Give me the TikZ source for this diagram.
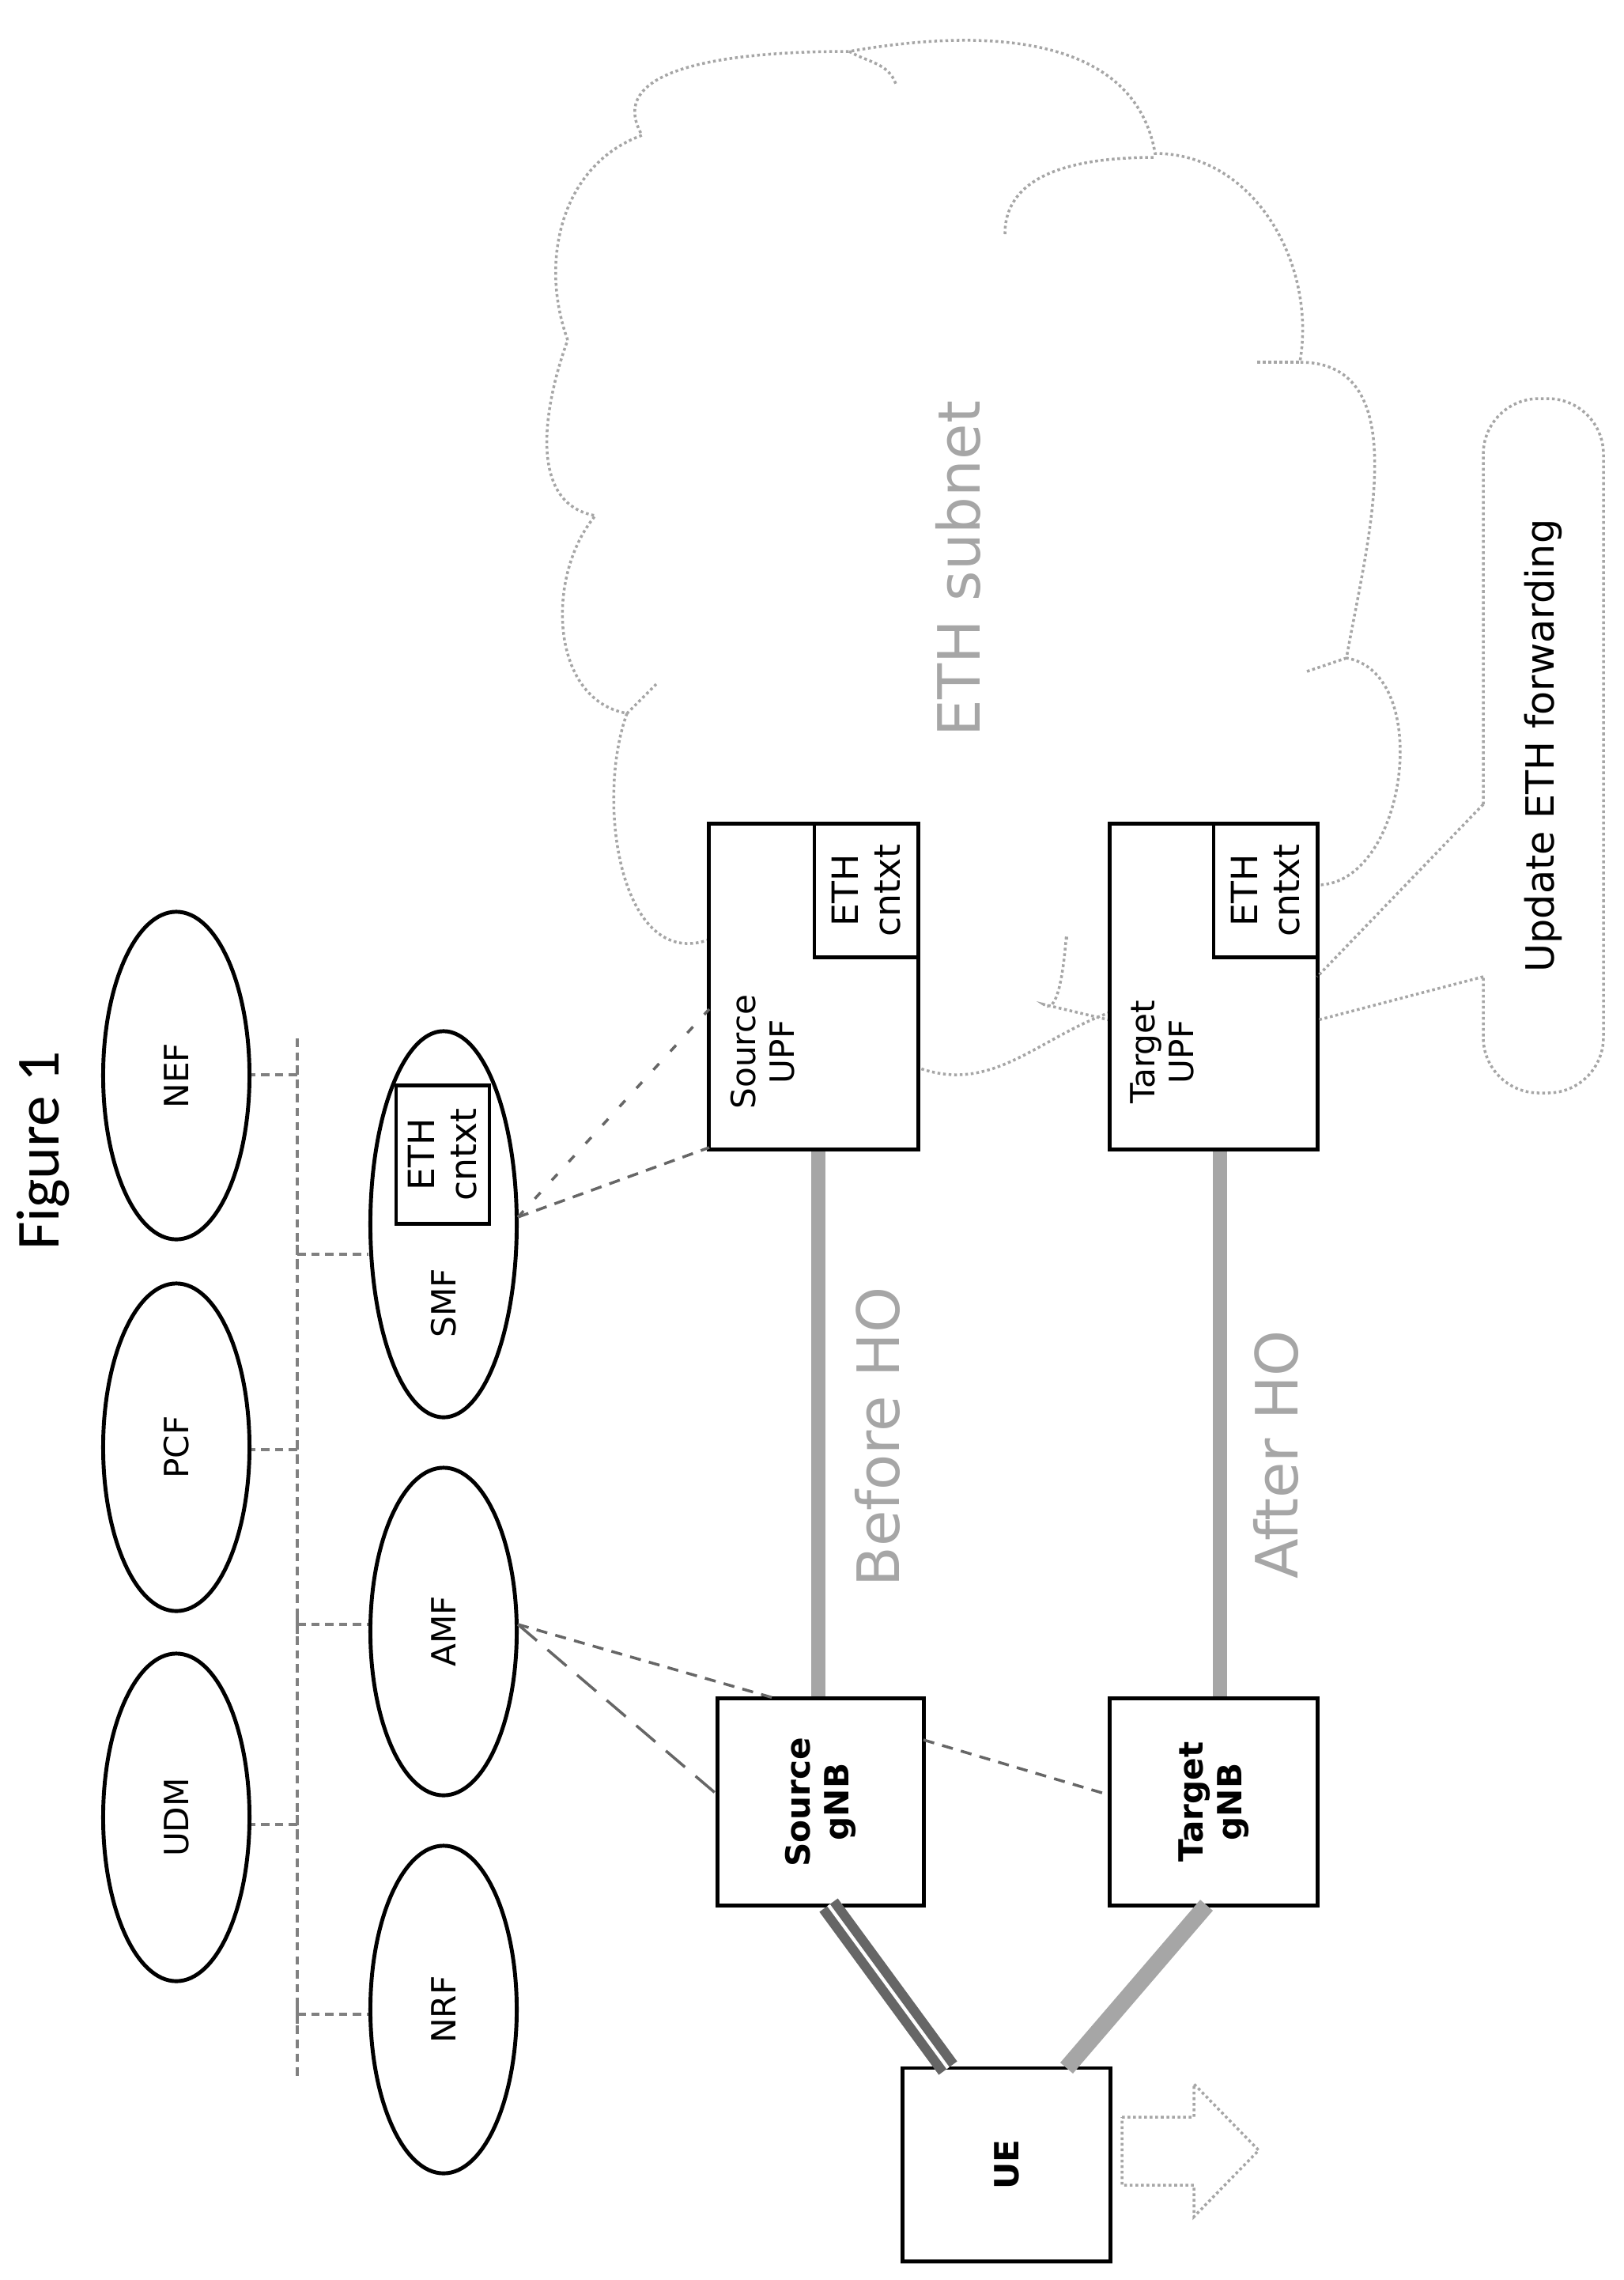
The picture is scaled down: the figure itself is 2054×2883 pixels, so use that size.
\documentclass[tikz,border=0pt]{standalone}
\usepackage{fontspec}
\setmainfont{DejaVu Sans}
\newfontfamily\titlefont{Carlito}
\usetikzlibrary{shapes.geometric}
\begin{document}
\begin{tikzpicture}[x=0.01cm,y=-0.01cm,
  nf/.style={ellipse,draw,line width=1.4pt,minimum width=1.85cm,minimum height=4.14cm,inner sep=0pt},
  box/.style={draw,line width=1.4pt,inner sep=0pt},
  lbl/.style={rotate=90,font=\fontsize{12}{14}\selectfont,align=center},
  blbl/.style={lbl,font=\fontsize{12}{14}\selectfont\bfseries},
  bus/.style={gray,line width=1.2pt,dash pattern=on 3pt off 2pt},
  sig/.style={gray!80!black,line width=1pt,dash pattern=on 4pt off 3pt},
  link/.style={gray!70,line width=5pt},
  cloud/.style={gray!70,line width=1pt,densely dotted},
  big/.style={rotate=90,gray!70,font=\fontsize{21}{24}\selectfont}]
\useasboundingbox (0,0) rectangle (2054,2883);
% title
\node[rotate=90,font=\titlefont\fontsize{22}{26}\selectfont] (title) at (55,1455) {Figure 1};
% cloud
\draw[cloud] (718,430) to[out=110,in=200] (812,171)
  to[out=120,in=180] (1074,65)
  to[out=10,in=100] (1461,194)
  to[out=0,in=80] (1644,458)
  to[out=0,in=80] (1703,832)
  to[out=-10,in=0] (1666,1119)
  (1404,1280) to[out=200,in=-20] (1161,1350)
  (897,1188) to[out=200,in=250] (793,902)
  to[out=170,in=230] (753,652)
  to[out=170,in=250] (718,430);
\draw[cloud] (1271,296) to[out=90,in=180] (1461,199);
\draw[cloud] (1074,65) to[out=-30,in=110] (1133,106);
\draw[cloud] (1590,458) -- (1644,458);
\draw[cloud] (830,865) -- (793,902);
\draw[cloud] (1703,832) -- (1650,850);
\draw[cloud] (1349,1188) to[out=90,in=-40] (1320,1270) -- (1404,1290);
\node[big] (eth) at (1212,719) {ETH subnet};
% NFs
\node[nf] (nef) at (223,1360) {}; \node[lbl] at (nef) {NEF};
\node[nf] (pcf) at (223,1830) {}; \node[lbl] at (pcf) {PCF};
\node[nf] (udm) at (223,2298) {}; \node[lbl] at (udm) {UDM};
\node[nf,minimum height=4.88cm] (smf) at (561,1548) {};
\node[lbl] at (561,1648) {SMF};
\node[nf] (amf) at (561,2063) {}; \node[lbl] at (amf) {AMF};
\node[nf] (nrf) at (561,2541) {}; \node[lbl] at (nrf) {NRF};
\node[box,minimum width=1.18cm,minimum height=1.75cm] (smfeth) at (560,1460) {};
\node[lbl,font=\fontsize{13}{15}\selectfont] at (smfeth) {ETH\\cntxt};
% bus
\coordinate (b1) at (376,1313); \coordinate (b2) at (376,2626);
\draw[bus] (b1) -- (b2);
\foreach \n/\y in {nef/1359,pcf/1833,udm/2307}{
  \draw[bus] (376,\y) -- (\n.east |- 0,\y);
  \draw[bus] (376,\y-12) -- (376,\y+12);}
\foreach \n/\y in {smf/1586,amf/2054,nrf/2547}{
  \draw[bus] (376,\y) -- (\n.west |- 0,\y);
  \draw[bus] (376,\y-12) -- (376,\y+12);}
% boxes
\node[box,minimum width=2.64cm,minimum height=4.11cm] (supf) at (1029,1247.5) {};
\node[lbl] at (965,1330) {Source\\UPF};
\node[box,minimum width=1.31cm,minimum height=1.68cm] (supfe) at (1095.5,1126) {};
\node[lbl,font=\fontsize{13}{15}\selectfont] at (supfe) {ETH\\cntxt};
\node[box,minimum width=2.62cm,minimum height=4.11cm] (tupf) at (1535,1247.5) {};
\node[lbl] at (1470,1330) {Target\\UPF};
\node[box,minimum width=1.31cm,minimum height=1.68cm] (tupfe) at (1600.5,1126) {};
\node[lbl,font=\fontsize{13}{15}\selectfont] at (tupfe) {ETH\\cntxt};
\node[box,minimum width=2.6cm,minimum height=2.61cm] (sgnb) at (1038,2278.5) {};
\node[blbl] at (sgnb) {Source\\gNB};
\node[box,minimum width=2.62cm,minimum height=2.61cm] (tgnb) at (1535,2278.5) {};
\node[blbl] at (tgnb) {Target\\gNB};
\node[box,minimum width=2.62cm,minimum height=2.44cm] (ue) at (1273,2737) {};
\node[blbl] at (ue) {UE};
% callout
\draw[cloud,rounded corners=20] (1876,1017) -- (1876,504) -- (2028,504) -- (2028,1382) -- (1876,1382) -- (1876,1235);
\coordinate (c1) at (1666,1235); \coordinate (c2) at (1666,1290);
\draw[cloud] (1876,1017) -- (c1);
\draw[cloud] (1876,1235) -- (c2);
\node[lbl,font=\fontsize{14}{16}\selectfont] (upd) at (1952,943) {Update ETH forwarding};
% movement arrow
\draw[cloud] (1419,2677) -- (1510,2677) -- (1510,2635) -- (1592,2719) -- (1510,2803) -- (1510,2763) -- (1419,2763) -- cycle;
% links
\draw[link] (sgnb.north -| 1035,0) -- (supf.south -| 1035,0);
\draw[link] (tgnb.north -| 1543,0) -- (tupf.south -| 1543,0);
\node[big] (bho) at (1110,1817) {Before HO};
\node[big] (aho) at (1614,1839) {After HO};
\draw[gray!80!black,line width=3.5pt,double=white,double distance=1.2pt] (1048,2409) -- (1199,2615);
\draw[gray!70,line width=6pt] (1526,2409) -- (1349,2615);
% signalling
\draw[sig] (655,2054) -- (982,2148);
\draw[sig,dash pattern=on 9pt off 5pt] (655,2054) -- (908,2270);
\draw[sig] (1168,2200) -- (1404,2270);
\draw[sig] (655,1539) -- (897,1451);
\draw[sig,dash pattern=on 3pt off 6pt] (655,1539) -- (897,1276);
\end{tikzpicture}
\end{document}
